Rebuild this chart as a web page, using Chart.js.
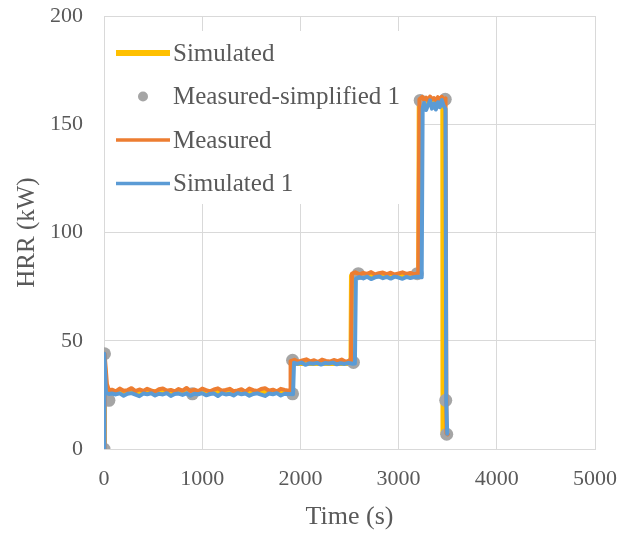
<!DOCTYPE html>
<html>
<head>
<meta charset="utf-8">
<title>HRR</title>
<script src="https://cdn.jsdelivr.net/npm/chart.js@4.4.1/dist/chart.umd.min.js"></script>
<style>
  html, body { margin: 0; padding: 0; background: #fff; }
  #hrr-chart { display: block; }
</style>
</head>
<body>
<canvas id="hrr-chart" width="623" height="533"></canvas>
<script>
// time (s), HRR (kW)
const simulated = [
  [0, 0], [3, 40], [20, 27], [60, 26.5], [1915, 26.5], [1920, 39.5], [2515, 39.5],
  [2520, 80], [3205, 80], [3210, 160], [3450, 160], [3452, 7], [3495, 7]
];

const measuredSimplified = [
  [0, 0], [5, 44], [50, 22.5], [900, 25.5], [1920, 25.5], [1920, 41], [2540, 40],
  [2590, 81], [3190, 81], [3220, 161], [3475, 161.5], [3480, 22.5], [3490, 6.8]
];

const measured = [
  [0, 0], [6, 44], [30, 30], [50, 27.2], [80, 27.4], [120, 26.6], [160, 27.9],
  [200, 26.9], [240, 27.2], [280, 28.1], [320, 26.7], [360, 27.5], [400, 26.8],
  [440, 27.8], [480, 27.1], [520, 26.5], [560, 27.6], [600, 28.0], [640, 26.9],
  [680, 27.3], [720, 26.6], [760, 27.7], [800, 27.0], [840, 28.2], [880, 26.8],
  [920, 27.4], [960, 26.7], [1000, 27.9], [1040, 27.2], [1080, 26.6], [1120, 27.5],
  [1160, 28.0], [1200, 26.9], [1240, 27.3], [1280, 27.8], [1320, 26.7], [1360, 27.1],
  [1400, 27.6], [1440, 26.5], [1480, 27.9], [1520, 27.2], [1560, 26.8], [1600, 27.7],
  [1640, 28.1], [1680, 26.9], [1720, 27.4], [1760, 26.6], [1800, 27.8], [1840, 27.3],
  [1880, 26.9], [1895, 27.2],
  [1900, 40.6], [1940, 41.2], [1980, 40.3], [2020, 40.9], [2060, 41.4], [2100, 40.5],
  [2140, 41.0], [2180, 40.2], [2220, 41.3], [2260, 40.7], [2300, 40.4], [2340, 41.1],
  [2380, 40.6], [2420, 41.3], [2460, 40.3], [2500, 40.8], [2515, 40.6],
  [2525, 81.0], [2560, 81.6], [2600, 80.7], [2640, 81.3], [2680, 80.9], [2720, 81.7],
  [2760, 80.6], [2800, 81.2], [2840, 81.5], [2880, 80.8], [2920, 81.4], [2960, 80.6],
  [3000, 81.1], [3040, 81.6], [3080, 80.9], [3120, 81.3], [3160, 80.7], [3200, 81.2],
  [3212, 161.5], [3240, 162.6], [3260, 161.2], [3280, 162.3], [3300, 161.0], [3320, 162.8],
  [3340, 161.6], [3360, 162.1], [3380, 160.9], [3400, 162.5], [3420, 161.4], [3440, 162.7],
  [3460, 161.3], [3478, 162.0], [3488, 7.2], [3500, 6.8]
];

const simulated1 = [
  [0, 0], [4, 44], [20, 26], [50, 25.4], [80, 25.6], [120, 25.2], [160, 25.7],
  [200, 24.6], [240, 25.5], [280, 25.8], [320, 25.1], [360, 24.4], [400, 25.6],
  [440, 25.3], [480, 25.7], [520, 24.7], [560, 25.5], [600, 25.2], [640, 25.8],
  [680, 24.5], [720, 25.4], [760, 25.6], [800, 25.0], [840, 25.7], [880, 24.6],
  [920, 25.5], [960, 25.3], [1000, 25.8], [1040, 24.8], [1080, 25.4], [1120, 25.6],
  [1160, 24.5], [1200, 25.7], [1240, 25.2], [1280, 25.5], [1320, 24.7], [1360, 25.8],
  [1400, 25.3], [1440, 25.6], [1480, 24.6], [1520, 25.4], [1560, 25.7], [1600, 25.1],
  [1640, 24.5], [1680, 25.6], [1720, 25.3], [1760, 25.8], [1800, 24.7], [1840, 25.5],
  [1880, 25.4], [1925, 25.3],
  [1935, 39.8], [1970, 39.3], [2010, 39.9], [2050, 38.9], [2090, 39.6], [2130, 39.4],
  [2170, 39.8], [2210, 39.0], [2250, 39.7], [2290, 39.5], [2330, 39.9], [2370, 39.1],
  [2410, 39.6], [2450, 39.3], [2490, 39.8], [2530, 39.4], [2555, 39.5],
  [2565, 78.6], [2600, 79.4], [2640, 78.8], [2680, 79.6], [2720, 78.5], [2760, 79.3],
  [2800, 79.7], [2840, 78.9], [2880, 79.5], [2920, 78.7], [2960, 79.6], [3000, 79.2],
  [3040, 78.6], [3080, 79.5], [3120, 79.0], [3160, 79.4], [3200, 79.6], [3235, 79.3],
  [3245, 157.5], [3260, 159.8], [3280, 156.6], [3300, 158.9], [3320, 161.0], [3340, 157.2],
  [3360, 159.6], [3380, 156.8], [3400, 160.2], [3420, 157.9], [3440, 161.2], [3460, 158.4],
  [3478, 157.0], [3485, 22.5], [3495, 7.0]
];

const xTicks = [0, 1000, 2000, 3000, 4000, 5000];
const yTicks = [0, 50, 100, 150, 200];

const FONT = '"Liberation Serif", "Times New Roman", serif';
const TEXT = '#595959';
const GRID = '#d9d9d9';

const toXY = rows => rows.map(([x, y]) => ({ x, y }));

function lineSet(label, rows, color, width, order) {
  return {
    label,
    data: toXY(rows),
    showLine: true,
    borderColor: color,
    backgroundColor: color,
    borderWidth: width,
    pointRadius: 0,
    pointHoverRadius: 0,
    tension: 0,
    fill: false,
    order,
    borderJoinStyle: 'round',
    borderCapStyle: 'round'
  };
}

// legend sits inside the plot on a white box, like the spreadsheet one
const insideLegend = {
  id: 'insideLegend',
  beforeDatasetsDraw(chart) {
    const ctx = chart.ctx;
    ctx.save();
    ctx.fillStyle = '#fff';
    ctx.fillRect(105, 31, 315, 173);
    ctx.font = '25px ' + FONT;
    ctx.textBaseline = 'middle';
    ctx.textAlign = 'left';
    chart.data.datasets.forEach((ds, i) => {
      const y = 53 + i * 43.5;
      if (ds.showLine === false) {
        ctx.fillStyle = ds.backgroundColor;
        ctx.beginPath();
        ctx.arc(143, y, 5, 0, Math.PI * 2);
        ctx.fill();
      } else {
        ctx.strokeStyle = ds.borderColor;
        ctx.lineWidth = ds.legendWidth;
        ctx.beginPath();
        ctx.moveTo(116, y);
        ctx.lineTo(170, y);
        ctx.stroke();
      }
      ctx.fillStyle = TEXT;
      ctx.fillText(ds.label, 173, y + 1);
    });
    ctx.restore();
  }
};

const datasets = [
  Object.assign(lineSet('Simulated', simulated, '#ffc000', 5, 4), { legendWidth: 6 }),
  {
    label: 'Measured-simplified 1',
    data: toXY(measuredSimplified),
    showLine: false,
    pointRadius: 6.5,
    pointHoverRadius: 6.5,
    pointBorderWidth: 0,
    backgroundColor: '#a5a5a5',
    borderColor: '#a5a5a5',
    order: 3
  },
  Object.assign(lineSet('Measured', measured, '#ed7d31', 4, 2), { legendWidth: 3.3 }),
  Object.assign(lineSet('Simulated 1', simulated1, '#5b9bd5', 4, 1), { legendWidth: 3.3 })
];

new Chart(document.getElementById('hrr-chart').getContext('2d'), {
  type: 'scatter',
  data: { datasets },
  options: {
    responsive: false,
    animation: false,
    layout: { autoPadding: false, padding: { top: 16, right: 28, left: 0, bottom: 0 } },
    plugins: { legend: { display: false }, tooltip: { enabled: false } },
    scales: {
      x: {
        type: 'linear',
        min: 0,
        max: 5000,
        afterFit(scale) {
          scale.height = 84;
          scale.paddingLeft = 0;
          scale.paddingRight = 0;
        },
        afterBuildTicks(scale) { scale.ticks = xTicks.map(value => ({ value })); },
        grid: { color: GRID, lineWidth: 1, drawTicks: false },
        border: { color: GRID, width: 1 },
        ticks: {
          color: TEXT,
          padding: 17,
          maxRotation: 0,
          font: { family: FONT, size: 22 },
          callback: v => String(v)
        },
        title: {
          display: true,
          text: 'Time (s)',
          color: TEXT,
          padding: { top: 0, bottom: 0 },
          font: { family: FONT, size: 26 }
        }
      },
      y: {
        type: 'linear',
        min: 0,
        max: 200,
        afterFit(scale) {
          scale.width = 104;
          scale.paddingTop = 0;
          scale.paddingBottom = 0;
        },
        afterBuildTicks(scale) { scale.ticks = yTicks.map(value => ({ value })); },
        grid: { color: GRID, lineWidth: 1, drawTicks: false },
        border: { color: GRID, width: 1 },
        ticks: {
          color: TEXT,
          padding: 21,
          font: { family: FONT, size: 22 },
          callback: v => String(v)
        },
        title: {
          display: true,
          text: 'HRR (kW)',
          color: TEXT,
          padding: { top: 12, bottom: 0 },
          font: { family: FONT, size: 25 }
        }
      }
    }
  },
  plugins: [insideLegend]
});
</script>
</body>
</html>
